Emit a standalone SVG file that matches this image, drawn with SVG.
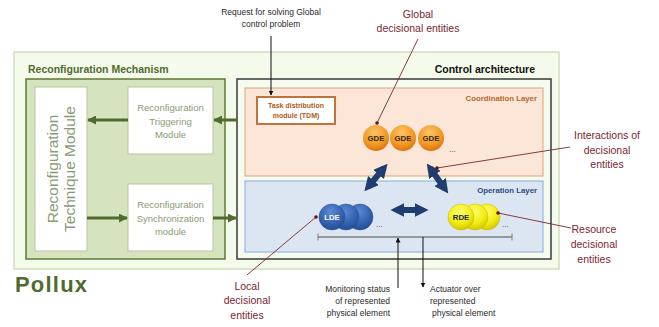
<svg xmlns="http://www.w3.org/2000/svg" width="659" height="327" viewBox="0 0 659 327">
<style>
text{font-family:"Liberation Sans",Arial,sans-serif}
.wbox{fill:#ffffff;stroke:#b7c6a0;stroke-width:1}
.wtxt{fill:#8a9a74;font-size:9.5px;text-anchor:middle}
.call{fill:#7b2630;font-size:10.5px;text-anchor:middle}
.cline{stroke:#7b2630;stroke-width:0.9;fill:none}
.dot{fill:#6e1010}
.blk{fill:#2a2a2a;font-size:8.5px}
.g{stroke:#4f6b2f;stroke-width:3;fill:none}
.ball-t{font-size:7.8px;font-weight:bold;text-anchor:middle}
.dots{font-size:8px;fill:#333}
.bd{stroke:#1f3d6e;stroke-width:6;fill:none}
</style>
<defs>
<marker id="ga" viewBox="0 0 10 10" refX="9" refY="5" markerWidth="9" markerHeight="9" markerUnits="userSpaceOnUse" orient="auto"><path d="M0,0L10,5L0,10z" fill="#4f6b2f"/></marker>
<marker id="ka" viewBox="0 0 10 10" refX="9" refY="5" markerWidth="5" markerHeight="5" markerUnits="userSpaceOnUse" orient="auto"><path d="M0,0L10,5L0,10z" fill="#111"/></marker>
<marker id="ba" viewBox="0 0 10 10" refX="6" refY="5" markerWidth="14" markerHeight="14" markerUnits="userSpaceOnUse" orient="auto-start-reverse"><path d="M0,0L10,5L0,10z" fill="#1f3d6e"/></marker>
<radialGradient id="og" cx="0.45" cy="0.3" r="0.75"><stop offset="0" stop-color="#fdc46a"/><stop offset="0.6" stop-color="#f29a26"/><stop offset="1" stop-color="#d96e08"/></radialGradient>
<radialGradient id="bg" cx="0.45" cy="0.3" r="0.75"><stop offset="0" stop-color="#5d8ad6"/><stop offset="0.6" stop-color="#3462b0"/><stop offset="1" stop-color="#1f4a92"/></radialGradient>
<radialGradient id="yg" cx="0.45" cy="0.3" r="0.75"><stop offset="0" stop-color="#ffff70"/><stop offset="0.6" stop-color="#f2ec10"/><stop offset="1" stop-color="#cbbf00"/></radialGradient>
</defs>

<g id="pollux">
<rect x="14" y="52" width="545" height="217" fill="#f4fbea" stroke="#c5d6b2" stroke-width="1.2"/>
<text x="15" y="292" font-size="22" font-weight="bold" fill="#4f6b2f" letter-spacing="1.2">Pollux</text>
</g>

<g id="reconf-mechanism">
<text x="28" y="73" font-size="10.5" font-weight="bold" fill="#4f6b2f">Reconfiguration Mechanism</text>
<rect x="26" y="79" width="199" height="180" fill="#d6e3bf" stroke="#5d7a34" stroke-width="1.5"/>
</g>

<g id="technique-module">
<rect class="wbox" x="35" y="87" width="52" height="164"/>
<text transform="translate(58,169) rotate(-90)" font-size="15.5" fill="#8a9a74" text-anchor="middle">Reconfiguration</text>
<text transform="translate(75,169) rotate(-90)" font-size="15.5" fill="#8a9a74" text-anchor="middle">Technique Module</text>
</g>

<g id="triggering-module">
<rect class="wbox" x="128" y="87" width="85" height="67"/>
<text class="wtxt" x="170.5" y="111">Reconfiguration</text>
<text class="wtxt" x="170.5" y="125">Triggering</text>
<text class="wtxt" x="170.5" y="138">Module</text>
</g>

<g id="sync-module">
<rect class="wbox" x="128" y="184" width="85" height="67"/>
<text class="wtxt" x="170.5" y="208">Reconfiguration</text>
<text class="wtxt" x="170.5" y="222">Synchronization</text>
<text class="wtxt" x="170.5" y="235">module</text>
</g>

<g id="control-architecture">
<text x="535" y="73" font-size="10.5" font-weight="bold" fill="#111" text-anchor="end">Control architecture</text>
<rect x="237" y="79" width="314" height="180" fill="#f5fbee" stroke="#3a3a3a" stroke-width="1.5"/>
</g>

<g id="coordination-layer">
<rect x="245" y="88" width="298" height="88" fill="#fce6d8" stroke="#d9a57c" stroke-width="1"/>
<text x="537" y="101" font-size="7.8" font-weight="bold" fill="#b8652a" text-anchor="end">Coordination Layer</text>
</g>

<g id="operation-layer">
<rect x="245" y="181" width="298" height="71" fill="#dce6f2" stroke="#8eaadb" stroke-width="1"/>
<text x="537" y="193" font-size="7.8" font-weight="bold" fill="#2a4a86" text-anchor="end">Operation Layer</text>
</g>

<g id="tdm">
<rect x="257" y="97" width="78" height="27" fill="#ffffff" stroke="#c0743a" stroke-width="2"/>
<text x="296" y="108" font-size="7" font-weight="bold" fill="#b05a20" text-anchor="middle">Task distribution</text>
<text x="296" y="118" font-size="7" font-weight="bold" fill="#b05a20" text-anchor="middle">module (TDM)</text>
</g>

<g id="gde">
<circle cx="376" cy="138" r="13" fill="url(#og)"/>
<text class="ball-t" x="376" y="141" fill="#3a2508">GDE</text>
<circle cx="403" cy="138" r="13" fill="url(#og)"/>
<text class="ball-t" x="403" y="141" fill="#3a2508">GDE</text>
<circle cx="431" cy="138" r="13" fill="url(#og)"/>
<text class="ball-t" x="431" y="141" fill="#3a2508">GDE</text>
<text class="dots" x="449" y="152">...</text>
</g>

<g id="lde">
<circle cx="360" cy="217" r="13" fill="url(#bg)" stroke="#2a5098" stroke-width="0.5"/>
<circle cx="346" cy="217" r="13" fill="url(#bg)" stroke="#2a5098" stroke-width="0.5"/>
<circle cx="332" cy="217" r="13" fill="url(#bg)" stroke="#2a5098" stroke-width="0.5"/>
<text class="ball-t" x="332" y="220" fill="#ffffff">LDE</text>
<text class="dots" x="376" y="227">...</text>
</g>

<g id="rde">
<circle cx="487" cy="217" r="13" fill="url(#yg)" stroke="#c8b800" stroke-width="0.5"/>
<circle cx="475" cy="217" r="13" fill="url(#yg)" stroke="#c8b800" stroke-width="0.5"/>
<circle cx="461" cy="217" r="13" fill="url(#yg)" stroke="#c8b800" stroke-width="0.5"/>
<text class="ball-t" x="461" y="220" fill="#222">RDE</text>
<text class="dots" x="502" y="227">...</text>
</g>

<g id="labels">
<text class="blk" x="271" y="15" text-anchor="middle">Request for solving  Global</text>
<text class="blk" x="271" y="27" text-anchor="middle">control problem</text>
<text class="call" x="418" y="18">Global</text>
<text class="call" x="418" y="32">decisional entities</text>
<text class="call" x="607" y="139">Interactions of</text>
<text class="call" x="607" y="154">decisional</text>
<text class="call" x="607" y="168">entities</text>
<text class="call" x="594" y="233">Resource</text>
<text class="call" x="594" y="248">decisional</text>
<text class="call" x="594" y="263">entities</text>
<text class="call" x="247" y="290">Local</text>
<text class="call" x="247" y="304">decisional</text>
<text class="call" x="247" y="319">entities</text>
<text class="blk" x="390" y="292" text-anchor="end">Monitoring status</text>
<text class="blk" x="390" y="304" text-anchor="end">of represented</text>
<text class="blk" x="390" y="316" text-anchor="end">physical element</text>
<text class="blk" x="430" y="292">Actuator over</text>
<text class="blk" x="430" y="304">represented</text>
<text class="blk" x="432" y="316">physical element</text>
</g>

<g id="connectors">
<line class="g" x1="237" y1="120" x2="214" y2="120" marker-end="url(#ga)"/>
<line class="g" x1="128" y1="120" x2="88" y2="120" marker-end="url(#ga)"/>
<line class="g" x1="87" y1="218" x2="127" y2="218" marker-end="url(#ga)"/>
<line class="g" x1="213" y1="218" x2="236" y2="218" marker-end="url(#ga)"/>
<line x1="271" y1="36" x2="271" y2="95" stroke="#111" stroke-width="1" marker-end="url(#ka)"/>
<line class="bd" x1="384" y1="168" x2="368" y2="187" marker-start="url(#ba)" marker-end="url(#ba)"/>
<line class="bd" x1="430" y1="168" x2="445" y2="189" marker-start="url(#ba)" marker-end="url(#ba)"/>
<line class="bd" x1="396" y1="210" x2="423" y2="210" marker-start="url(#ba)" marker-end="url(#ba)"/>
<line x1="318" y1="237" x2="512" y2="237" stroke="#7f7f7f" stroke-width="1.5"/>
<line x1="318" y1="233.5" x2="318" y2="240.5" stroke="#7f7f7f" stroke-width="1"/>
<line x1="512" y1="233.5" x2="512" y2="240.5" stroke="#7f7f7f" stroke-width="1"/>
<line x1="398" y1="288" x2="398" y2="238" stroke="#111" stroke-width="1" marker-end="url(#ka)"/>
<line x1="423" y1="237" x2="423" y2="287" stroke="#111" stroke-width="1" marker-end="url(#ka)"/>
<line class="cline" x1="418" y1="39" x2="377" y2="123"/>
<circle class="dot" cx="377" cy="123" r="1.8"/>
<line class="cline" x1="570" y1="147" x2="437" y2="168"/>
<circle class="dot" cx="437" cy="168" r="1.8"/>
<line class="cline" x1="498" y1="213" x2="571" y2="228"/>
<circle class="dot" cx="498" cy="213" r="1.8"/>
<line class="cline" x1="247" y1="275" x2="316" y2="217"/>
<circle class="dot" cx="316" cy="217" r="1.8"/>
</g>
</svg>
